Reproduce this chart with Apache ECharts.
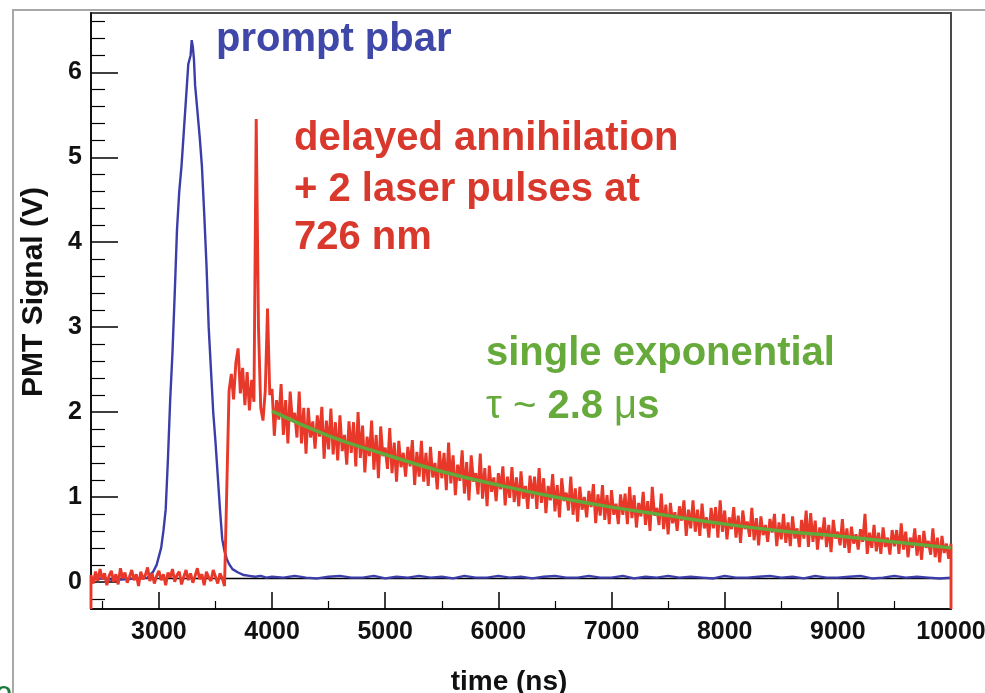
<!DOCTYPE html>
<html><head><meta charset="utf-8">
<script src="https://cdn.jsdelivr.net/npm/echarts@6/dist/echarts.min.js"></script>
<style>html,body{margin:0;padding:0;background:#fff}#c{width:985px;height:693px}</style>
</head><body><div id="c"></div>
<script>
// ---- axes ----
const xMin = 2400, xMax = 10000, yMin = -0.32, yMax = 6.7;
const xMajorTicks = [3000, 4000, 5000, 6000, 7000, 8000, 9000, 10000];
const xMinorTicks = [2500, 3500, 4500, 5500, 6500, 7500, 8500, 9500];
const yMajorTicks = [0, 1, 2, 3, 4, 5, 6];
const yMinorTicks = [-0.2, 0.2, 0.4, 0.6, 0.8, 1.2, 1.4, 1.6, 1.8, 2.2, 2.4, 2.6, 2.8, 3.2, 3.4, 3.6, 3.8,
  4.2, 4.4, 4.6, 4.8, 5.2, 5.4, 5.6, 5.8, 6.2, 6.4, 6.6];

// ---- delayed annihilation trace (red), sampled every 20 ns from 2400 ns ----
const redStart = 2400, redStep = 20, redEdge = -0.32;
const redV = [
  0.08,-0.02,0.12,0.01,0.15,0.03,0.10,-0.04,0.07,0.13,
  0.00,0.09,-0.03,0.16,0.04,0.11,-0.01,0.06,0.14,0.02,
  0.09,-0.05,0.12,0.03,0.08,0.17,0.01,0.10,-0.02,0.07,
  0.13,0.02,0.09,-0.04,0.11,0.05,0.15,0.00,0.08,0.12,
  -0.03,0.06,0.14,0.02,0.10,-0.01,0.07,0.16,0.03,0.09,
  -0.04,0.12,0.05,0.01,0.14,0.06,-0.02,0.10,0.04,-0.05,
  1.10,2.25,
  2.45,2.15,2.58,2.75,2.22,2.52,2.08,2.47,2.02,2.38,2.12,
  5.45,3.00,2.05,1.90,2.25,3.22,2.20,
  2.27,1.72,2.14,1.91,2.33,
  1.73,2.14,1.63,2.24,1.89,
  1.99,1.70,2.24,1.63,2.05,
  1.51,2.05,1.70,1.89,1.57,
  1.96,1.71,2.06,1.45,1.90,
  1.56,2.04,1.50,1.88,1.43,
  1.96,1.54,1.73,1.38,1.89,
  1.52,1.88,1.36,2.00,1.46,
  1.84,1.29,1.71,1.48,1.90,
  1.32,1.73,1.22,1.83,1.48,
  1.58,1.33,1.81,1.28,1.64,
  1.18,1.66,1.35,1.52,1.24,
  1.59,1.36,1.67,1.14,1.53,
  1.24,1.66,1.18,1.52,1.13,
  1.59,1.23,1.40,1.09,1.54,
  1.22,1.52,1.08,1.64,1.16,
  1.49,1.02,1.38,1.19,1.55,
  1.04,1.41,0.96,1.49,1.18,
  1.28,1.03,1.51,0.98,1.34,
  0.89,1.37,1.06,1.23,0.95,
  1.28,1.09,1.36,0.90,1.24,
  0.99,1.35,0.94,1.23,0.89,
  1.30,0.98,1.13,0.86,1.25,
  0.98,1.24,0.86,1.34,0.93,
  1.22,0.81,1.13,0.96,1.27,
  0.83,1.14,0.76,1.22,0.95,
  1.05,0.84,1.24,0.79,1.10,
  0.71,1.12,0.85,1.00,0.76,
  1.07,0.88,1.15,0.69,1.03,
  0.78,1.14,0.73,1.02,0.68,
  1.08,0.79,0.92,0.68,1.03,
  0.79,1.04,0.68,1.12,0.75,
  1.02,0.64,0.93,0.77,1.06,
  0.67,0.95,0.60,1.12,0.78,
  0.87,0.67,1.04,0.62,0.91,
  0.56,0.93,0.69,0.82,0.60,
  0.89,0.72,0.96,0.54,0.85,
  0.63,0.96,0.59,0.85,0.54,
  0.92,0.63,0.76,0.52,0.87,
  0.63,0.88,0.52,0.96,0.59,
  0.84,0.50,0.76,0.62,0.88,
  0.52,0.78,0.46,0.84,0.62,
  0.71,0.53,0.87,0.49,0.75,
  0.43,0.77,0.55,0.67,0.47,
  0.74,0.58,0.80,0.42,0.70,
  0.50,0.80,0.46,0.70,0.42,
  0.77,0.51,0.63,0.41,0.73,
  0.51,0.84,0.41,0.81,0.47,
  0.72,0.38,0.64,0.50,0.76,
  0.41,0.67,0.35,0.73,0.51,
  0.59,0.43,0.74,0.40,0.63,
  0.34,0.65,0.45,0.56,0.38,
  0.62,0.47,0.80,0.33,0.58,
  0.40,0.67,0.36,0.58,0.33,
  0.64,0.41,0.52,0.32,0.61,
  0.42,0.61,0.33,0.69,0.38,
  0.59,0.29,0.52,0.40,0.63,
  0.31,0.55,0.26,0.60,0.40,
  0.48,0.32,0.63,0.29,0.52,
  0.23,0.54,0.34,0.45,0.27,
  0.45
];

// ---- prompt pbar trace (blue) ----
const blueT = [2400,2500,2600,2700,2800,2900,2950,2980,3000,3020,3040,3060,3080,3100,3120,3140,3160,3180,
  3200,3220,3240,3260,3280,3290,3300,3310,3320,3340,3360,3380,3400,3420,3440,3460,3480,3500,3520,3540,
  3560,3580,3600,3620,3650,3700,3750,3800,3850,3900,3950,
  4000,4100,4200,4300,4400,4500,4600,4700,4800,4900,
  5000,5100,5200,5300,5400,5500,5600,5700,5800,5900,
  6000,6100,6200,6300,6400,6500,6600,6700,6800,6900,
  7000,7100,7200,7300,7400,7500,7600,7700,7800,7900,
  8000,8100,8200,8300,8400,8500,8600,8700,8800,8900,
  9000,9100,9200,9300,9400,9500,9600,9700,9800,9900,10000];
const blueV = [0.03,0.04,0.02,0.03,0.04,0.05,0.12,0.20,0.30,0.40,0.60,0.85,1.45,2.15,2.70,3.40,4.15,4.60,
  4.90,5.30,5.70,6.10,6.20,6.38,6.30,6.15,5.85,5.55,5.25,4.90,4.35,3.75,3.00,2.50,2.00,1.65,1.25,0.85,
  0.50,0.36,0.27,0.21,0.15,0.11,0.08,0.07,0.06,0.07,0.05,
  0.06,0.05,0.07,0.05,0.04,0.06,0.07,0.05,0.05,0.07,
  0.04,0.06,0.05,0.07,0.05,0.06,0.04,0.07,0.05,0.05,
  0.07,0.05,0.06,0.04,0.06,0.07,0.05,0.05,0.07,0.05,
  0.05,0.07,0.04,0.06,0.05,0.07,0.05,0.06,0.05,0.04,
  0.07,0.05,0.05,0.06,0.07,0.05,0.06,0.04,0.07,0.05,
  0.05,0.06,0.07,0.04,0.05,0.07,0.05,0.06,0.05,0.04,0.05];

// ---- single exponential fit (green) ----
const greenT = [4000,4500,5000,5500,6000,6500,7000,7500,8000,8500,9000,9500,10000];
const greenV = [2.01,1.72,1.50,1.30,1.14,1.00,0.88,0.78,0.68,0.60,0.54,0.47,0.40];

// ---- background reference (black) ----
const blackT = [2400, 10000];
const blackV = [0.04, 0.04];

const FONT = '"Liberation Sans", Arial, Helvetica, sans-serif';

const redData = [[redStart, redEdge]].concat(redV.map((v, i) => [redStart + i * redStep, v]));
redData.push([redStart + (redV.length - 1) * redStep, redEdge]);
const blueData = blueT.map((t, i) => [t, blueV[i]]);
const greenData = greenT.map((t, i) => [t, greenV[i]]);
const blackData = blackT.map((t, i) => [t, blackV[i]]);

const chart = echarts.init(document.getElementById('c'), null, {renderer: 'canvas'});
const labelStyle = {fontFamily: FONT, fontWeight: 'bold', fontSize: 25, color: '#111', formatter: v => String(v)};

chart.setOption({
  animation: false,
  backgroundColor: '#fff',
  grid: {left: 91, right: 34, top: 13, bottom: 84, show: true, borderColor: '#4a4a4a', borderWidth: 2,
    containLabel: false, outerBoundsMode: 'none'},
  xAxis: [
    {type: 'value', min: xMin, max: xMax, position: 'bottom',
      axisLine: {show: true, onZero: false, lineStyle: {color: '#000', width: 1.5}},
      axisTick: {show: true, inside: true, length: 17, customValues: xMajorTicks, lineStyle: {color: '#000', width: 1.5}},
      axisLabel: {show: true, margin: 11, customValues: xMajorTicks, ...labelStyle},
      splitLine: {show: false}},
    {type: 'value', min: xMin, max: xMax, position: 'bottom',
      axisLine: {show: false, onZero: false},
      axisTick: {show: true, inside: true, length: 8, customValues: xMinorTicks, lineStyle: {color: '#000', width: 1.2}},
      axisLabel: {show: false},
      splitLine: {show: false}}
  ],
  yAxis: [
    {type: 'value', min: yMin, max: yMax, position: 'left',
      axisLine: {show: true, onZero: false, lineStyle: {color: '#000', width: 1.5}},
      axisTick: {show: true, inside: true, length: 27, customValues: yMajorTicks, lineStyle: {color: '#000', width: 1.5}},
      axisLabel: {show: true, margin: 9, customValues: yMajorTicks, ...labelStyle},
      splitLine: {show: false}},
    {type: 'value', min: yMin, max: yMax, position: 'left',
      axisLine: {show: false, onZero: false},
      axisTick: {show: true, inside: true, length: 14, customValues: yMinorTicks, lineStyle: {color: '#000', width: 1.2}},
      axisLabel: {show: false},
      splitLine: {show: false}}
  ],
  series: [
    {name: 'background', type: 'line', data: blackData, showSymbol: false, symbol: 'none',
      lineStyle: {color: '#000', width: 1.5}, z: 1},
    {name: 'prompt pbar', type: 'line', data: blueData, showSymbol: false, symbol: 'none',
      lineStyle: {color: '#3b3ea8', width: 2.4}, z: 2},
    {name: 'delayed annihilation', type: 'line', data: redData, showSymbol: false, symbol: 'none',
      lineStyle: {color: '#e8382a', width: 2.9, join: 'bevel'}, z: 3},
    {name: 'single exponential', type: 'line', data: greenData, smooth: true, showSymbol: false, symbol: 'none',
      lineStyle: {color: '#62a83a', width: 3.5}, z: 4}
  ],
  graphic: [
    {type: 'polyline', silent: true, z: 100, shape: {points: [[13, 693], [13, 10], [985, 10]]},
      style: {stroke: '#a8a8a8', lineWidth: 2, fill: 'none'}},
    {type: 'text', silent: true, z: 100, x: 216, y: 40,
      style: {text: 'prompt pbar', fill: '#3f47a8', font: 'bold 40px ' + FONT, verticalAlign: 'middle', textVerticalAlign: 'middle'}},
    {type: 'text', silent: true, z: 100, x: 294, y: 139,
      style: {text: 'delayed annihilation', fill: '#d9382c', font: 'bold 40px ' + FONT, verticalAlign: 'middle', textVerticalAlign: 'middle'}},
    {type: 'text', silent: true, z: 100, x: 294, y: 190,
      style: {text: '+ 2 laser pulses at', fill: '#d9382c', font: 'bold 40px ' + FONT, verticalAlign: 'middle', textVerticalAlign: 'middle'}},
    {type: 'text', silent: true, z: 100, x: 294, y: 238,
      style: {text: '726 nm', fill: '#d9382c', font: 'bold 40px ' + FONT, verticalAlign: 'middle', textVerticalAlign: 'middle'}},
    {type: 'text', silent: true, z: 100, x: 486, y: 354,
      style: {text: 'single exponential', fill: '#67aa3c', font: 'bold 40px ' + FONT, verticalAlign: 'middle', textVerticalAlign: 'middle'}},
    {type: 'text', silent: true, z: 100, x: 486, y: 407,
      style: {text: '{s|τ ~} 2.8 {s|μ}s', fill: '#67aa3c', font: 'bold 40px ' + FONT, verticalAlign: 'middle', textVerticalAlign: 'middle',
        rich: {s: {fill: '#67aa3c', font: 'normal 40px ' + FONT}}}},
    {type: 'text', silent: true, z: 100, x: 34, y: 292, rotation: Math.PI / 2,
      style: {text: 'PMT Signal (V)', fill: '#111', font: 'bold 30px ' + FONT, align: 'center', textAlign: 'center',
        verticalAlign: 'middle', textVerticalAlign: 'middle'}},
    {type: 'text', silent: true, z: 100, x: 509, y: 682,
      style: {text: 'time (ns)', fill: '#111', font: 'bold 28px ' + FONT, align: 'center', textAlign: 'center',
        verticalAlign: 'middle', textVerticalAlign: 'middle'}},
    {type: 'text', silent: true, z: 100, x: -4, y: 684,
      style: {text: 'O', fill: '#1d7a3a', font: 'bold 20px ' + FONT, verticalAlign: 'top', textVerticalAlign: 'top'}}
  ]
});
</script></body></html>
